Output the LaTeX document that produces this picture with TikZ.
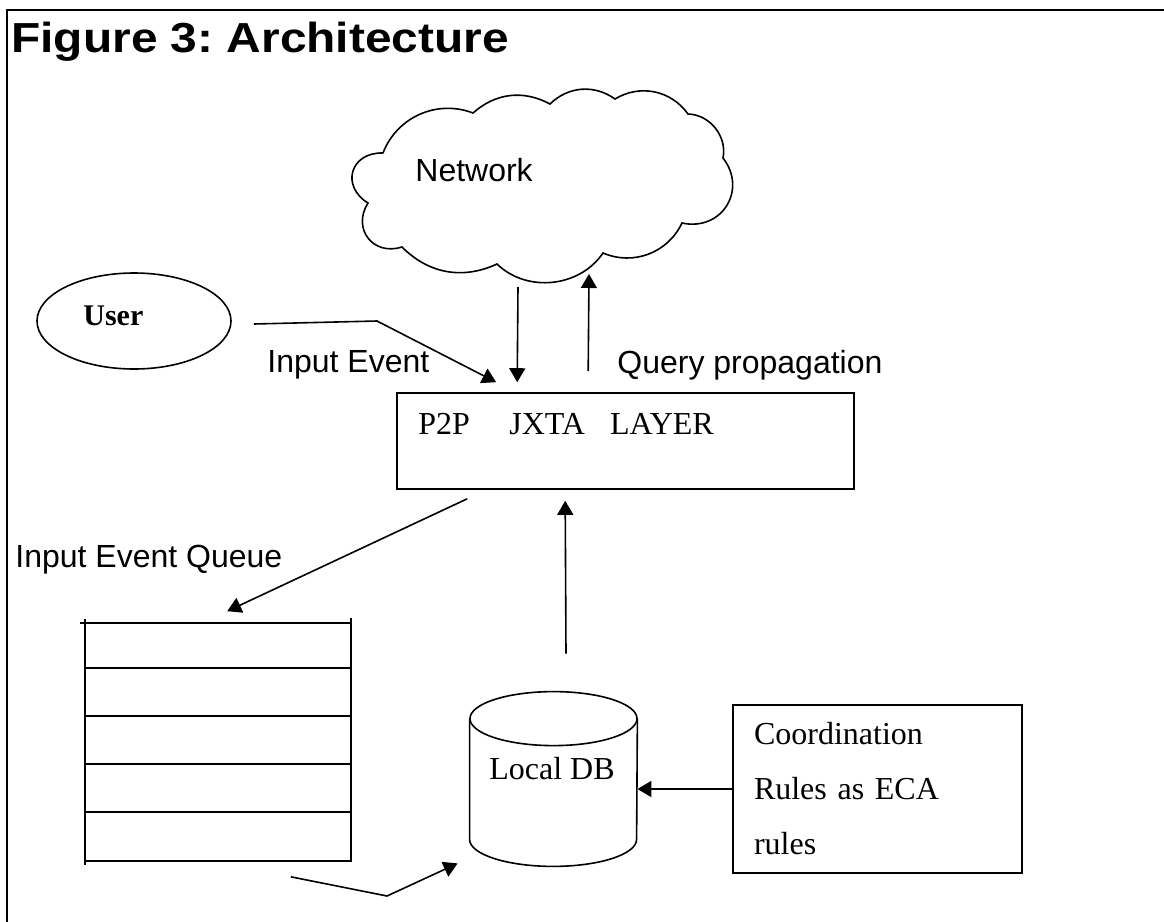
\documentclass[tikz,border=0pt]{standalone}
\usepackage{fontspec}
\setmainfont{Liberation Serif}
\setsansfont{Liberation Sans}
\usetikzlibrary{arrows.meta,shapes.geometric}

\tikzset{
  plain/.style={line width=0.8pt},
  conn/.style={line width=0.8pt, -{Triangle[length=7pt,width=8pt]}},
  sanslbl/.style={font=\sffamily\fontsize{16}{19}\selectfont, inner sep=0pt},
  seriflbl/.style={font=\fontsize{16}{19}\selectfont, inner sep=0pt},
}

\begin{document}
\begin{tikzpicture}[x=0.5pt, y=-0.5pt]
    \useasboundingbox (0,0) rectangle (1164,922);
    \draw[line width=1.3pt] (7,922) -- (7,10) -- (1164,10);
    \node[anchor=base west, inner sep=0pt, font=\sffamily\bfseries\fontsize{21}{25}\selectfont] (title) at (11,52) {\scalebox{1.14}[1]{\frenchspacing Figure 3: Architecture}};

    % network cloud
    \draw[plain] (383,153) to[bend left=45] (473,113) to[bend left=35] (550,104)
      to[bend left=40] (615,99) to[bend left=43] (688,114) to[bend left=50] (723,158)
      to[bend left=70, looseness=1.35] (682,223) to[bend left=44] (603,253)
      to[bend left=50] (497,264) to[bend left=35] (402,247)
      to[bend left=70, looseness=1.4] (368,203) to[bend left=75, looseness=1.6] (383,153);
    \node[sanslbl, anchor=base west] (net) at (415,181) {Network};
    \coordinate (netdn) at (518,287);
    \coordinate (netup) at (589,274);

    \node[draw, ellipse, plain, minimum width=97pt, minimum height=48pt, inner sep=0pt] (user) at (134,321) {};
    \node[anchor=base west, inner sep=0pt, font=\bfseries\fontsize{15}{18}\selectfont] (userlbl) at (83,325) {User};

    \node[draw, plain, minimum width=228.5pt, minimum height=48pt, inner sep=0pt] (p2p) at (625.5,441) {};
    \node[seriflbl, anchor=base west] (p2plbl) at (418,434) {P2P\hspace{19.7pt}JXTA\hspace{12.5pt}LAYER};

    % event queue
    \node[plain, minimum width=132pt, minimum height=118pt, inner sep=0pt] (queue) at (218,742) {};
    \draw[plain] ([xshift=-2.5pt]queue.north west) -- (queue.north east);
    \draw[plain] ([yshift=2.5pt]queue.north east) -- (queue.south east) -- (queue.south west);
    \draw[plain] ([yshift=2pt]queue.north west) -- ([yshift=-2pt]queue.south west);
    \foreach \y in {668,716,764,812}
      \draw[plain] (86,\y) -- (350,\y);
    \node[sanslbl, anchor=base west] (qlbl) at (15,567) {Input Event Queue};

    % local database
    \node[minimum width=83.5pt, minimum height=87pt, inner sep=0pt] (db) at (553.5,779) {};
    \draw[plain] ([yshift=-13.5pt]db.north west) -- ([yshift=13.5pt]db.south west)
      arc[start angle=180, end angle=360, x radius=41.75pt, y radius=13.5pt]
      -- ([yshift=-13.5pt]db.north east);
    \draw[plain] ([yshift=-13.5pt]db.north) ellipse [x radius=41.75pt, y radius=13.5pt];
    \node[seriflbl, anchor=base] (dblbl) at (552,779) {Local DB};

    \node[draw, plain, minimum width=144.5pt, minimum height=84pt, inner xsep=10.5pt, text width=123.5pt,
      align=left, font=\fontsize{16}{27.5}\selectfont] (rules) at (877.5,789) {Coordination\\Rules as ECA\\rules};

    \draw[conn] ([xshift=11pt,yshift=-1.5pt]user.east) -- (377,321) -- ([xshift=50pt,yshift=5pt]p2p.north west);
    \node[sanslbl, anchor=base west] (evlbl) at (267,372) {Input Event};
    \draw[conn] (netdn) -- ([xshift=60.5pt,yshift=5pt]p2p.north west);
    \draw[conn] ([xshift=96pt,yshift=10.5pt]p2p.north west) -- (netup);
    \node[sanslbl, anchor=base west] (qplbl) at (617,373) {Query propagation};
    \draw[conn] ([xshift=35.5pt,yshift=-4.5pt]p2p.south west) -- ([xshift=71pt,yshift=6pt]queue.north west);
    \draw[conn] ([xshift=-30pt,yshift=-8pt]queue.south east) -- (387,896) -- ([xshift=-6pt,yshift=1.5pt]db.south west);
    \draw[conn] ([xshift=6.25pt,yshift=19pt]db.north) -- ([xshift=84.5pt,yshift=-5.5pt]p2p.south west);
    \draw[conn] (rules.west) -- (rules.west -| db.east);
  \end{tikzpicture}
\end{document}
